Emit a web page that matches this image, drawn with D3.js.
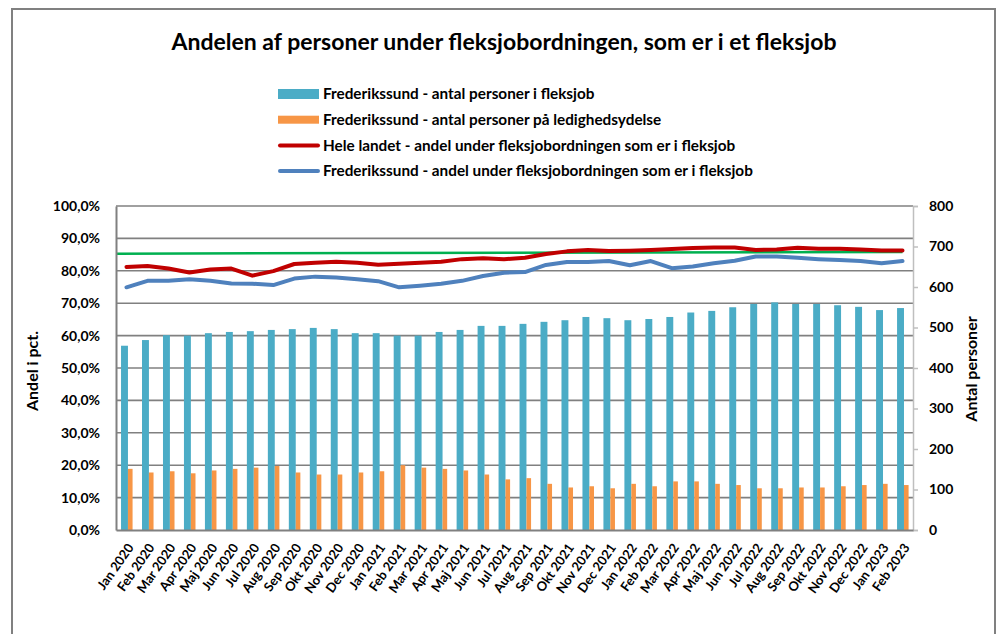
<!DOCTYPE html>
<html lang="da">
<head>
<meta charset="utf-8">
<title>Andelen af personer under fleksjobordningen</title>
<script src="https://d3js.org/d3.v7.min.js"></script>
<style>
  body { margin: 0; background: #fff; }
  svg text { font-family: Lato, "Open Sans", "DejaVu Sans", sans-serif; fill: #000; }
  .tick text { font-weight: bold; font-size: 14px; }
  .legend text { font-weight: bold; font-size: 15.3px; }
</style>
<script>
  // Months shown on the x axis
  const months = ["Jan 2020","Feb 2020","Mar 2020","Apr 2020","Maj 2020","Jun 2020","Jul 2020","Aug 2020","Sep 2020","Okt 2020","Nov 2020","Dec 2020",
                  "Jan 2021","Feb 2021","Mar 2021","Apr 2021","Maj 2021","Jun 2021","Jul 2021","Aug 2021","Sep 2021","Okt 2021","Nov 2021","Dec 2021",
                  "Jan 2022","Feb 2022","Mar 2022","Apr 2022","Maj 2022","Jun 2022","Jul 2022","Aug 2022","Sep 2022","Okt 2022","Nov 2022","Dec 2022",
                  "Jan 2023","Feb 2023"];

  // Frederikssund - antal personer i fleksjob (right axis)
  const fleksjob = [455,469,481,480,486,489,491,494,496,499,496,486,
                    486,480,480,489,494,504,504,509,514,518,526,523,
                    518,521,526,537,541,550,558,562,558,558,555,551,
                    543,548];

  // Frederikssund - antal personer på ledighedsydelse (right axis)
  const ledighed = [151,142,145,140,147,151,154,158,142,137,137,142,
                    145,160,154,151,147,137,125,128,114,105,108,103,
                    114,108,120,120,114,111,103,103,105,105,108,111,
                    114,111];

  // Hele landet - andel (pct, left axis)
  const heleLandet = [81.2,81.5,80.7,79.5,80.4,80.7,78.5,79.9,82.1,82.5,82.8,82.5,
                      81.9,82.2,82.5,82.8,83.6,83.9,83.6,84.0,85.2,86.0,86.4,86.1,
                      86.2,86.4,86.7,87.0,87.2,87.2,86.4,86.6,87.1,86.8,86.8,86.6,
                      86.3,86.3];

  // Frederikssund - andel (pct, left axis)
  const frederikssund = [74.9,76.9,76.9,77.4,76.9,76.1,76.0,75.6,77.6,78.2,77.9,77.4,
                         76.8,74.9,75.4,76.0,76.9,78.4,79.4,79.6,81.8,82.7,82.7,83.0,
                         81.7,83.0,80.8,81.3,82.3,83.1,84.4,84.4,84.0,83.6,83.3,83.0,
                         82.3,83.0];

  // Green reference line (pct, left axis), start and end value
  const greenLine = [85.3, 85.8];

  const pctTicks = [0,10,20,30,40,50,60,70,80,90,100];
  const countTicks = [0,100,200,300,400,500,600,700,800];

  const legendItems = [
    { label: "Frederikssund - antal personer i fleksjob", type: "bar", color: "#4BACC6" },
    { label: "Frederikssund - antal personer på ledighedsydelse", type: "bar", color: "#F79646" },
    { label: "Hele landet - andel under fleksjobordningen som er i fleksjob", type: "line", color: "#C00000" },
    { label: "Frederikssund - andel under fleksjobordningen som er i fleksjob", type: "line", color: "#4F81BD" }
  ];
</script>
</head>
<body>
<div id="chart"></div>
<script>
  const width = 1000, height = 634;
  const plot = { left: 116, right: 913, top: 206, bottom: 530 };

  const svg = d3.select("#chart").append("svg")
      .attr("width", width)
      .attr("height", height);

  // outer frame
  svg.append("path")
     .attr("d", `M12,${height} V9 H995 V${height}`)
     .attr("fill", "none")
     .attr("stroke", "#808080")
     .attr("stroke-width", 2);

  // title
  svg.append("text")
     .attr("x", 504).attr("y", 50)
     .attr("text-anchor", "middle")
     .style("font-size", "23px")
     .style("font-weight", "bold")
     .text("Andelen af personer under fleksjobordningen, som er i et fleksjob");

  // scales
  const x = d3.scaleBand().domain(months).range([plot.left, plot.right]).padding(0);
  const yPct = d3.scaleLinear().domain([0, 100]).range([plot.bottom, plot.top]);
  const yCount = d3.scaleLinear().domain([0, 800]).range([plot.bottom, plot.top]);
  const bw = x.bandwidth();

  const da = d3.formatLocale({ decimal: ",", thousands: ".", grouping: [3], currency: ["", " kr"] });
  const pctFmt = v => da.format(".1f")(v) + "%";

  // gridlines
  svg.append("g").selectAll("line")
     .data(pctTicks.filter(t => t > 0 && t < 100))
     .join("line")
     .attr("x1", plot.left).attr("x2", plot.right)
     .attr("y1", d => yPct(d)).attr("y2", d => yPct(d))
     .attr("stroke", "#808080").attr("stroke-width", 1.6);

  // top border of plot
  svg.append("line")
     .attr("x1", plot.left).attr("x2", plot.right)
     .attr("y1", yPct(100)).attr("y2", yPct(100))
     .attr("stroke", "#808080").attr("stroke-width", 1.6);

  // bars
  svg.append("g").selectAll("rect")
     .data(fleksjob)
     .join("rect")
     .attr("x", (d, i) => x(months[i]) + bw * 0.24)
     .attr("y", d => yCount(d))
     .attr("width", bw * 0.33)
     .attr("height", d => yCount(0) - yCount(d))
     .attr("fill", "#4BACC6");

  svg.append("g").selectAll("rect")
     .data(ledighed)
     .join("rect")
     .attr("x", (d, i) => x(months[i]) + bw * 0.57)
     .attr("y", d => yCount(d))
     .attr("width", bw * 0.22)
     .attr("height", d => yCount(0) - yCount(d))
     .attr("fill", "#F79646");

  // green line
  svg.append("line")
     .attr("x1", plot.left)
     .attr("x2", x(months[months.length - 1]) + bw / 2)
     .attr("y1", yPct(greenLine[0]))
     .attr("y2", yPct(greenLine[1]))
     .attr("stroke", "#00B050")
     .attr("stroke-width", 2.5);

  // lines
  const line = d3.line()
      .x((d, i) => x(months[i]) + bw / 2)
      .y(d => yPct(d));

  svg.append("path")
     .datum(heleLandet)
     .attr("d", line)
     .attr("fill", "none")
     .attr("stroke", "#C00000")
     .attr("stroke-width", 4)
     .attr("stroke-linejoin", "round")
     .attr("stroke-linecap", "round");

  svg.append("path")
     .datum(frederikssund)
     .attr("d", line)
     .attr("fill", "none")
     .attr("stroke", "#4F81BD")
     .attr("stroke-width", 4)
     .attr("stroke-linejoin", "round")
     .attr("stroke-linecap", "round");

  // left axis
  const leftAxis = svg.append("g")
     .attr("transform", `translate(${plot.left},0)`)
     .call(d3.axisLeft(yPct).tickValues(pctTicks).tickFormat(pctFmt).tickSize(0).tickPadding(16));
  leftAxis.select(".domain").attr("stroke", "#808080").attr("stroke-width", 2);

  // right axis
  const rightAxis = svg.append("g")
     .attr("transform", `translate(${plot.right},0)`)
     .call(d3.axisRight(yCount).tickValues(countTicks).tickSize(5).tickPadding(11));
  rightAxis.select(".domain").attr("stroke", "#BFBFBF").attr("stroke-width", 1.5);
  rightAxis.selectAll(".tick line").attr("stroke", "#BFBFBF").attr("stroke-width", 1.5);

  // bottom axis
  const bottomAxis = svg.append("g")
     .attr("transform", `translate(0,${plot.bottom})`)
     .call(d3.axisBottom(x).tickSize(0));
  bottomAxis.select(".domain").attr("stroke", "#808080").attr("stroke-width", 2);
  bottomAxis.selectAll(".tick text")
     .attr("x", 0).attr("y", 0).attr("dy", "0.35em")
     .attr("text-anchor", "end")
     .attr("transform", "translate(4,15) rotate(-55)")
     .style("font-size", "13px");

  // axis titles
  svg.append("text")
     .attr("transform", "translate(38,371) rotate(-90)")
     .attr("text-anchor", "middle")
     .style("font-size", "16px").style("font-weight", "bold")
     .text("Andel i pct.");

  svg.append("text")
     .attr("transform", "translate(977,369) rotate(-90)")
     .attr("text-anchor", "middle")
     .style("font-size", "16px").style("font-weight", "bold")
     .text("Antal personer");

  // legend
  const legend = svg.append("g").attr("class", "legend")
     .attr("transform", "translate(278,94)");
  const rows = legend.selectAll("g")
     .data(legendItems)
     .join("g")
     .attr("transform", (d, i) => `translate(0,${i * 25.7})`);
  rows.filter(d => d.type === "bar").append("rect")
     .attr("x", 0).attr("y", (d, i) => i === 0 ? -5 : -4)
     .attr("width", 41).attr("height", (d, i) => i === 0 ? 10 : 8)
     .attr("fill", d => d.color);
  rows.filter(d => d.type === "line").append("line")
     .attr("x1", 2).attr("x2", 40).attr("y1", 0).attr("y2", 0)
     .attr("stroke", d => d.color).attr("stroke-width", 4)
     .attr("stroke-linecap", "round");
  rows.append("text")
     .attr("x", 45).attr("y", 0).attr("dy", "0.35em")
     .text(d => d.label);
</script>
</body>
</html>
